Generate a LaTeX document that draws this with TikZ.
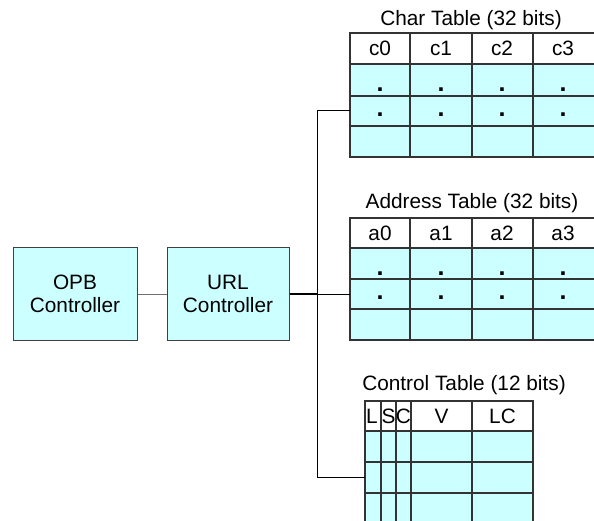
\documentclass[tikz,border=0pt]{standalone}
\usepackage{fontspec}
\setmainfont{Liberation Sans}
\usepackage{tikz}
\usetikzlibrary{positioning}
\definecolor{cellcyan}{HTML}{CCFFFF}
\definecolor{gridgray}{HTML}{333333}
\definecolor{boxgray}{HTML}{404040}
\definecolor{linkgray}{HTML}{707070}
\tikzset{
  unit/.style={draw=boxgray,line width=1pt,fill=cellcyan,minimum height=92pt,align=center,inner sep=0pt},
  gridline/.style={draw=gridgray,line width=1.2pt},
  cell/.style={inner sep=0pt},
  dotmark/.style={inner sep=0pt,font=\fontsize{25}{25}\selectfont\bfseries},
  tabtitle/.style={inner sep=0pt},
}
\begin{document}
\begin{tikzpicture}[x=1pt,y=-1pt,font=\fontsize{20.8}{23}\selectfont]
        \useasboundingbox (0,0) rectangle (594,521);
        \clip (0,0) rectangle (594,521);
        % controllers
        \node[unit,minimum width=124pt] (opb) at (75,294) {OPB\\Controller};
        \node[unit,minimum width=122pt] (url) at (228,294) {URL\\Controller};
        % char table
        \node[tabtitle] (chartitle) at (471,20) {Char Table (32 bits)};
        \fill[cellcyan] (350,64) rectangle (597,157);
        \draw[gridline] (350,33) rectangle (597,157);
        \foreach \y in {64,96,126} \draw[gridline] (350,\y) -- (597,\y);
        \foreach \x in {410,472,533} \draw[gridline] (\x,33) -- (\x,157);
        \foreach \t [count=\i from 0] in {c0,c1,c2,c3}
          \node[cell] (c\i) at ({380+61*\i},48.5) {\t};
        \foreach \x [count=\i] in {380,441,502,563} {
          \node[dotmark] (cdotA\i) at (\x,90) {.};
          \node[dotmark] (cdotB\i) at (\x,115) {.};
        }
        % address table
        \node[tabtitle] (addrtitle) at (472,203) {Address Table (32 bits)};
        \fill[cellcyan] (350,248) rectangle (597,340);
        \draw[gridline] (350,218) rectangle (597,340);
        \foreach \y in {248,279,309} \draw[gridline] (350,\y) -- (597,\y);
        \foreach \x in {410,472,533} \draw[gridline] (\x,218) -- (\x,340);
        \foreach \t [count=\i from 0] in {a0,a1,a2,a3}
          \node[cell] (a\i) at ({380+61*\i},233) {\t};
        \foreach \x [count=\i] in {380,441,502,563} {
          \node[dotmark] (adotA\i) at (\x,274) {.};
          \node[dotmark] (adotB\i) at (\x,298) {.};
        }
        % control table
        \node[tabtitle] (ctrltitle) at (464,385) {Control Table (12 bits)};
        \fill[cellcyan] (365,431) rectangle (533,530);
        \draw[gridline] (365,530) -- (365,401) -- (533,401) -- (533,530);
        \foreach \y in {431,462,493} \draw[gridline] (365,\y) -- (533,\y);
        \foreach \x in {381,396,411,472} \draw[gridline] (\x,401) -- (\x,530);
        \foreach \t/\x [count=\i] in {L/372,S/388.5,C/403.5,V/441.5,LC/502.5}
          \node[cell] (f\i) at (\x,416) {\t};
        % bus
        \coordinate (bustop) at (317,111);
        \coordinate (busbot) at (317,477);
        \coordinate (charin) at (350,111);
        \coordinate (addrin) at (350,294);
        \coordinate (ctrlin) at (365,477);
        \draw[linkgray,line width=1pt] (opb) -- (url);
        \draw[line width=2pt] (url.east) -- (url.east -| bustop);
        \draw[line width=1pt] (charin) -- (bustop) -- (busbot) -- (ctrlin);
        \draw[line width=1pt] (addrin -| bustop) -- (addrin);
      \end{tikzpicture}
\end{document}
